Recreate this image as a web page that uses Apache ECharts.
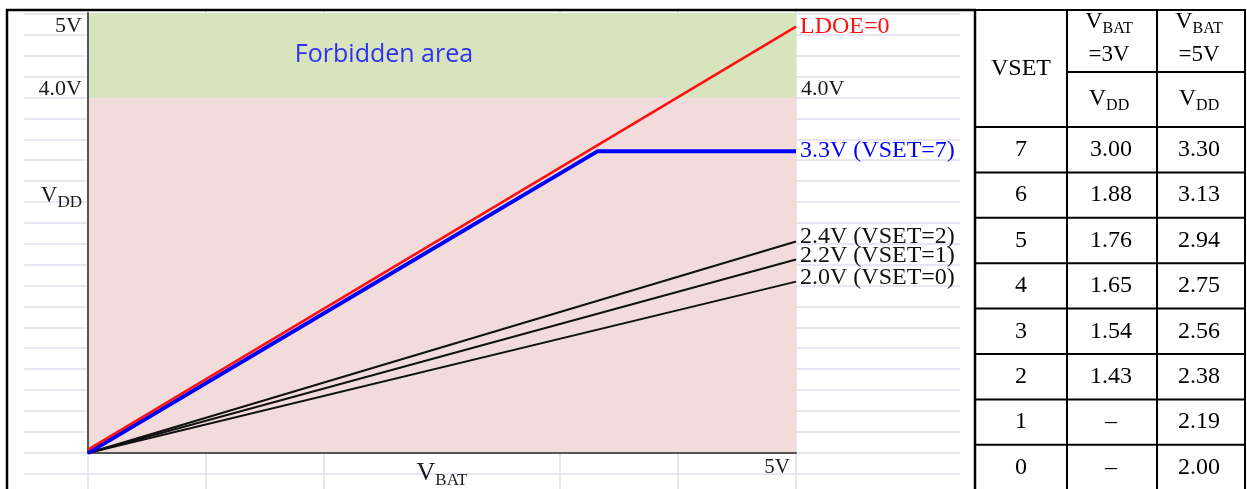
<!DOCTYPE html>
<html><head><meta charset="utf-8">
<script src="https://cdn.jsdelivr.net/npm/echarts@6/dist/echarts.min.js"></script>
<style>html,body{margin:0;padding:0;background:#fff}#c{width:1247px;height:489px}</style>
</head><body><div id="c"></div>
<script>
// ---------- data ----------
const ldoeLine  = [[0, 0.04], [5, 5.0]];
const vset7Line = [[0, 0], [3.6, 3.54], [5, 3.54]];
const vset2Line = [[0, 0], [5, 2.48]];
const vset1Line = [[0, 0], [5, 2.27]];
const vset0Line = [[0, 0], [5, 2.01]];
const lineNames = ['LDOE=0', '3.3V (VSET=7)', '2.4V (VSET=2)', '2.2V (VSET=1)', '2.0V (VSET=0)'];
const forbiddenFrom = 4.17;
const vddMax = 5.16;
const vbatMax = 5;
const yTickValues = [5, 4.27, 3.02];
const yTickLabels = ['5V', '4.0V', '{v|V}{s|DD}'];
const yRightTickValues = [4.27];
const yRightTickLabels = ['4.0V'];
const xTickValues = [5];
const xTickLabels = ['5V'];
const areaLabel = 'Forbidden area';

const tableVset  = ['7', '6', '5', '4', '3', '2', '1', '0'];
const tableVbat3 = ['3.00', '1.88', '1.76', '1.65', '1.54', '1.43', '–', '–'];
const tableVbat5 = ['3.30', '3.13', '2.94', '2.75', '2.56', '2.38', '2.19', '2.00'];
const tableHead  = ['VSET', '{v|V}{s|BAT}', '{v|V}{s|BAT}', '=3V', '=5V', '{v|V}{s|DD}', '{v|V}{s|DD}'];

// ---------- style ----------
const SERIF = '"Liberation Serif", "Times New Roman", serif';
const GRIDC = '#dce1ec';
const PINK = '#f2dcdb', GREEN = '#d7e4bd';

const chart = echarts.init(document.getElementById('c'), null, {renderer: 'canvas'});

// table graphic
const colX = [975, 1067, 1157, 1245];
const hTop = 10, hMid = 72, hBot = 127, rowH = 45.4;
const g = [];
const LW = 2;
function hline(x1, x2, y) { g.push({type: 'line', shape: {x1, y1: y, x2, y2: y}, style: {stroke: '#000', lineWidth: LW}, z: 100}); }
function vline(x, y1, y2) { g.push({type: 'line', shape: {x1: x, y1, x2: x, y2}, style: {stroke: '#000', lineWidth: LW}, z: 100}); }
const richT = {
  v: {fontFamily: SERIF, fontSize: 24, color: '#000'},
  s: {fontFamily: SERIF, fontSize: 16, color: '#000', padding: [14, 0, 0, 0]}
};
function txt(text, x, y, size) {
  g.push({type: 'text', x, y, z: 101, style: {text, fill: '#000', font: size + 'px ' + SERIF,
    textAlign: 'center', textVerticalAlign: 'middle', align: 'center', verticalAlign: 'middle', rich: richT}});
}
// outer border of chart
g.push({type: 'rect', shape: {x: 7, y: 10, width: 968, height: 500}, style: {fill: 'none', stroke: '#000', lineWidth: 2.5}, z: 100});
hline(colX[0], colX[3], hTop);
hline(colX[1], colX[3], hMid);
for (let i = 0; i <= tableVset.length; i++) hline(colX[0], colX[3], hBot + i * rowH);
colX.forEach(x => vline(x, hTop - 1, 495));
const c1 = (colX[0] + colX[1]) / 2, c2 = (colX[1] + colX[2]) / 2 - 3, c3 = (colX[2] + colX[3]) / 2 - 2;
txt(tableHead[0], c1, (hTop + hBot) / 2, 24);
txt(tableHead[1], c2, 22, 24);
txt(tableHead[2], c3, 22, 24);
txt(tableHead[3], c2, 55, 23);
txt(tableHead[4], c3, 55, 23);
txt(tableHead[5], c2, 99, 24);
txt(tableHead[6], c3, 99, 24);
tableVset.forEach((v, i) => {
  const y = hBot + (i + 0.5) * rowH;
  txt(v, c1, y, 24);
  txt(tableVbat3[i], c2 + 2, y, 24);
  txt(tableVbat5[i], c3, y, 24);
});

const labelCommon = {fontFamily: SERIF, fontSize: 24};
function dataLine(name, data, color, width, labelOffset) {
  return {
    name, type: 'line', data, xAxisIndex: 0, yAxisIndex: 0, z: 4,
    symbol: 'none', lineStyle: {color, width}, silent: true,
    endLabel: {show: true, formatter: name, color, distance: 4, offset: labelOffset, ...labelCommon}
  };
}

const option = {
  animation: false,
  backgroundColor: '#fff',
  grid: [
    {left: 88, top: 13, width: 708, height: 440, outerBoundsMode: 'none', containLabel: false},
    {left: 24, top: 14, width: 936, height: 23 * 20.89, outerBoundsMode: 'none', containLabel: false},
    {left: 88, top: 10, width: 708, height: 480, outerBoundsMode: 'none', containLabel: false}
  ],
  xAxis: [
    {gridIndex: 0, type: 'value', min: 0, max: vbatMax, interval: 5, z: 3,
     axisLine: {show: true, onZero: false, lineStyle: {color: '#555', width: 2}},
     axisTick: {show: false}, splitLine: {show: false},
     axisLabel: {customValues: xTickValues, formatter: v => xTickLabels[xTickValues.indexOf(v)] || '',
       align: 'right', padding: [0, 6, 0, 0], margin: 4, color: '#1a1a1a', fontFamily: SERIF, fontSize: 21},
     name: '{v|V}{s|BAT}', nameLocation: 'middle', nameGap: 5, nameMoveOverlap: false,
     nameTextStyle: {verticalAlign: 'top', rich: {v: {fontFamily: SERIF, fontSize: 26, color: '#1a1a1a'},
       s: {fontFamily: SERIF, fontSize: 17, color: '#1a1a1a', padding: [14, 0, 0, 0]}}}},
    {gridIndex: 1, type: 'value', min: 0, max: 1, show: false},
    {gridIndex: 2, type: 'value', min: 0, max: 6, show: false}
  ],
  yAxis: [
    {gridIndex: 0, type: 'value', min: 0, max: vddMax, z: 3,
     axisLine: {show: true, onZero: false, lineStyle: {color: '#555', width: 2}},
     axisTick: {show: false}, splitLine: {show: false},
     axisLabel: {customValues: yTickValues, formatter: v => yTickLabels[yTickValues.indexOf(v)] || '',
       margin: 6, color: '#1a1a1a', fontFamily: SERIF, fontSize: 22,
       rich: {v: {fontFamily: SERIF, fontSize: 23, color: '#1a1a1a'},
              s: {fontFamily: SERIF, fontSize: 17, color: '#1a1a1a', padding: [14, 0, 0, 0]}}}},
    {gridIndex: 0, type: 'value', min: 0, max: vddMax, position: 'right', z: 3,
     axisLine: {show: false}, axisTick: {show: false}, splitLine: {show: false},
     axisLabel: {customValues: yRightTickValues, formatter: v => yRightTickLabels[yRightTickValues.indexOf(v)] || '',
       margin: 5, color: '#1a1a1a', fontFamily: SERIF, fontSize: 22}},
    {gridIndex: 1, type: 'value', min: 0, max: 23, interval: 1, inverse: true, z: 0,
     axisLine: {show: false}, axisTick: {show: false}, axisLabel: {show: false},
     splitLine: {show: true, lineStyle: {color: GRIDC, width: 1.5}}},
    {gridIndex: 2, type: 'value', min: 0, max: 1, show: false}
  ],
  graphic: g,
  series: [
    {type: 'line', xAxisIndex: 2, yAxisIndex: 3, data: [[0, 0]], symbol: 'none', silent: true,
     lineStyle: {width: 0}, z: 0,
     markLine: {z: 0, silent: true, symbol: 'none', label: {show: false},
       lineStyle: {color: GRIDC, width: 1.5, type: 'solid'},
       data: [{xAxis: 0}, {xAxis: 1}, {xAxis: 2}, {xAxis: 4}, {xAxis: 5}, {xAxis: 6}]}},
    {type: 'line', xAxisIndex: 0, yAxisIndex: 0, data: [[0, 0]], symbol: 'none', silent: true,
     lineStyle: {width: 0}, z: 1,
     markArea: {z: 1, silent: true, label: {show: false},
       data: [
         [{yAxis: 0, itemStyle: {color: PINK, opacity: 1}}, {yAxis: forbiddenFrom}],
         [{yAxis: forbiddenFrom, name: areaLabel, itemStyle: {color: GREEN, opacity: 1},
           label: {show: true, position: 'inside', offset: [-58, 0], color: '#3030f5',
             fontFamily: '"Open Sans", "Noto Sans", sans-serif', fontSize: 25}}, {yAxis: vddMax}]
       ]}},
    dataLine(lineNames[4], vset0Line, '#111', 2, [0, -4]),
    dataLine(lineNames[3], vset1Line, '#111', 2, [0, -4]),
    dataLine(lineNames[2], vset2Line, '#111', 2, [0, -5]),
    dataLine(lineNames[1], vset7Line, '#0000ff', 4, [0, 0]),
    dataLine(lineNames[0], ldoeLine, '#ff1010', 2.5, [0, 0])
  ]
};
chart.setOption(option);
</script></body></html>
